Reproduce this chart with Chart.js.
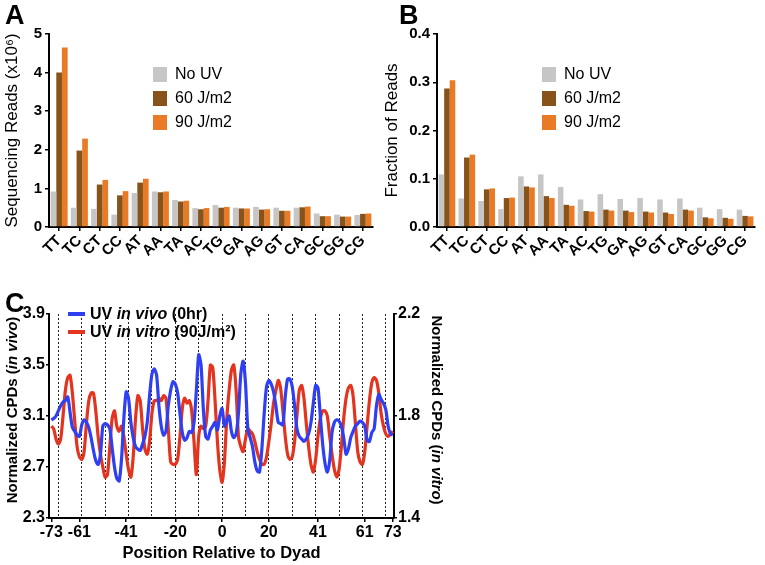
<!DOCTYPE html>
<html>
<head>
<meta charset="utf-8">
<script src="https://cdn.jsdelivr.net/npm/chart.js"></script>
<style>
body { margin: 0; background: #fff; width: 765px; height: 565px; position: relative; overflow: hidden; font-family: "Liberation Sans", Arial, sans-serif; }
canvas { position: absolute; }
.panel { position: absolute; font-weight: bold; font-size: 27px; color: #000; line-height: 1; }
</style>
</head>
<body>
<canvas id="chartA" width="380" height="290" style="left:0;top:0"></canvas>
<canvas id="chartB" width="385" height="290" style="left:380px;top:0"></canvas>
<canvas id="chartC" width="450" height="275" style="left:0;top:290px"></canvas>
<div class="panel" style="left:5px;top:2px">A</div>
<div class="panel" style="left:399px;top:2px">B</div>
<div class="panel" style="left:5px;top:290px">C</div>
<script>
// panels A and B
var dinucleotides = ['TT', 'TC', 'CT', 'CC', 'AT', 'AA', 'TA', 'AC', 'TG', 'GA', 'AG', 'GT', 'CA', 'GC', 'GG', 'CG'];
var doseLabels = ['No UV', '60 J/m2', '90 J/m2'];
var readsNoUV = [0.92, 0.50, 0.47, 0.32, 0.88, 0.92, 0.70, 0.49, 0.57, 0.50, 0.52, 0.50, 0.50, 0.35, 0.32, 0.31];
var reads60 = [4.00, 1.98, 1.10, 0.82, 1.15, 0.90, 0.66, 0.46, 0.50, 0.48, 0.45, 0.42, 0.51, 0.28, 0.27, 0.34];
var reads90 = [4.65, 2.29, 1.22, 0.93, 1.25, 0.92, 0.68, 0.49, 0.52, 0.48, 0.46, 0.42, 0.53, 0.28, 0.27, 0.35];
var fracNoUV = [0.109, 0.059, 0.054, 0.037, 0.105, 0.109, 0.083, 0.057, 0.068, 0.058, 0.060, 0.057, 0.059, 0.040, 0.037, 0.036];
var frac60 = [0.287, 0.144, 0.078, 0.060, 0.084, 0.064, 0.046, 0.033, 0.036, 0.034, 0.032, 0.030, 0.036, 0.020, 0.019, 0.023];
var frac90 = [0.304, 0.150, 0.080, 0.061, 0.082, 0.060, 0.044, 0.032, 0.034, 0.031, 0.030, 0.027, 0.034, 0.018, 0.017, 0.022];
var readsTicks = [0, 1, 2, 3, 4, 5];
var fracTicks = [0, 0.1, 0.2, 0.3, 0.4];

// panel C
var dyadTicks = [-73, -61, -41, -20, 0, 20, 41, 61, 73];
var dyadLines = [-70, -60, -50, -40, -30, -20, -10, 0, 10, 20, 30, 40, 50, 60, 70];
var vivoTicks = [2.3, 2.7, 3.1, 3.5, 3.9];
var vitroTicks = [1.4, 1.8, 2.2];
var inVivo = [
  3.07, 3.08, 3.10, 3.14, 3.18, 3.21, 3.22, 3.25, 3.13, 3.01,
  2.98, 2.95, 2.94, 3.03, 3.07, 3.05, 3.01, 2.93, 2.83, 2.75,
  2.72, 2.80, 3.02, 3.04, 3.03, 3.00, 2.85, 2.70, 2.61, 2.59,
  2.76, 3.08, 3.29, 3.24, 3.05, 2.93, 2.86, 2.84, 2.83, 2.88,
  2.94, 3.05, 3.26, 3.43, 3.47, 3.42, 3.18, 3.02, 2.95, 2.98,
  3.18, 3.30, 3.37, 3.35, 3.28, 3.12, 2.97, 2.91, 2.93, 2.98,
  2.97, 3.05, 3.30, 3.58, 3.50, 3.15, 2.94, 2.92, 2.99, 3.02,
  3.05, 2.99, 3.10, 3.16, 3.02, 3.06, 3.10, 2.98, 2.93, 2.96,
  3.12, 3.43, 3.53, 3.36, 3.00, 2.93, 2.86, 2.74, 2.67, 2.66,
  2.84, 3.12, 3.33, 3.38, 3.35, 3.29, 3.18, 3.05, 3.04, 3.03,
  3.25, 3.39, 3.39, 3.33, 3.18, 3.00, 2.94, 2.92, 2.90, 2.92,
  2.96, 3.05, 3.20, 3.34, 3.32, 3.10, 2.88, 2.73, 2.66, 2.75,
  2.97, 3.05, 3.07, 3.06, 3.02, 2.93, 2.80, 2.84, 2.93, 2.98,
  3.02, 3.04, 3.06, 3.05, 3.02, 2.91, 2.90, 2.97, 3.00, 3.18,
  3.27, 3.23, 3.20, 3.15, 3.02, 2.96, 2.95
];
var inVitro = [
  1.76, 1.75, 1.71, 1.69, 1.71, 1.80, 1.90, 1.95, 1.96, 1.89,
  1.78, 1.68, 1.64, 1.63, 1.66, 1.77, 1.86, 1.89, 1.89, 1.82,
  1.72, 1.65, 1.60, 1.56, 1.57, 1.68, 1.79, 1.82, 1.76, 1.74,
  1.76, 1.72, 1.65, 1.59, 1.56, 1.64, 1.79, 1.88, 1.86, 1.75,
  1.67, 1.65, 1.70, 1.81, 1.86, 1.86, 1.87, 1.86, 1.88, 1.87,
  1.75, 1.62, 1.61, 1.61, 1.63, 1.72, 1.83, 1.87, 1.85, 1.86,
  1.82, 1.70, 1.57, 1.72, 1.76, 1.75, 1.76, 1.86, 2.00, 1.99,
  1.86, 1.70, 1.59, 1.54, 1.62, 1.79, 1.90, 1.98, 2.00, 1.90,
  1.72, 1.68, 1.66, 1.71, 1.75, 1.74, 1.73, 1.70, 1.66, 1.63,
  1.61, 1.61, 1.64, 1.70, 1.77, 1.85, 1.90, 1.94, 1.91, 1.82,
  1.72, 1.65, 1.63, 1.64, 1.70, 1.80, 1.90, 1.92, 1.87, 1.77,
  1.68, 1.61, 1.58, 1.63, 1.72, 1.79, 1.82, 1.82, 1.80, 1.72,
  1.65, 1.59, 1.56, 1.59, 1.68, 1.79, 1.87, 1.91, 1.92, 1.88,
  1.77, 1.66, 1.62, 1.61, 1.66, 1.76, 1.86, 1.93, 1.95, 1.94,
  1.89, 1.81, 1.76, 1.73, 1.72, 1.73, 1.74
];

var FONT = '"Liberation Sans", Arial, sans-serif';
var doseColors = ['#c6c6c6', '#87531a', '#e97a26'];

// legend with square boxes, placed inside the plot
var boxLegend = {
  id: 'boxLegend',
  afterDraw: function (chart, args, opts) {
    var c = chart.ctx, a = chart.chartArea;
    c.save();
    c.font = '16px ' + FONT;
    c.textBaseline = 'middle';
    chart.data.datasets.forEach(function (ds, i) {
      var x = a.left + opts.x, y = a.top + opts.y + i * 24;
      c.fillStyle = ds.backgroundColor;
      c.fillRect(x, y, 14, 15);
      c.fillStyle = '#000';
      c.fillText(ds.label, x + 22, y + 8);
    });
    c.restore();
  }
};

function barChart(id, series, ticks, yMax, yTitle, fmt, leftW, rightPad, legendX) {
  return new Chart(document.getElementById(id).getContext('2d'), {
    type: 'bar',
    data: {
      labels: dinucleotides,
      datasets: series.map(function (v, i) {
        return { label: doseLabels[i], data: v, backgroundColor: doseColors[i], borderWidth: 0,
                 categoryPercentage: 0.84, barPercentage: 1 };
      })
    },
    options: {
      responsive: false,
      animation: false,
      layout: { padding: { top: 34, right: rightPad, left: 0, bottom: 0 } },
      plugins: { legend: { display: false }, tooltip: { enabled: false }, boxLegend: { x: legendX, y: 33 } },
      scales: {
        x: {
          grid: { display: true, drawOnChartArea: false, offset: false, tickLength: 4, color: '#000', lineWidth: 1.5 },
          border: { display: true, color: '#000', width: 2 },
          ticks: { minRotation: 45, maxRotation: 45, autoSkip: false, color: '#000', padding: 1,
                   font: { family: FONT, size: 15, weight: 'bold' } },
          afterFit: function (s) { s.height = 63; }
        },
        y: {
          min: 0, max: yMax,
          afterBuildTicks: function (s) { s.ticks = ticks.map(function (v) { return { value: v }; }); },
          grid: { display: true, drawOnChartArea: false, tickLength: 4, color: '#000', lineWidth: 1.5 },
          border: { display: true, color: '#000', width: 2 },
          ticks: { color: '#000', padding: 3, font: { family: FONT, size: 15, weight: 'bold' },
                   callback: function (v) { return fmt(v); } },
          title: { display: true, text: yTitle, color: '#000', padding: { top: 2, bottom: 2 },
                   font: { family: FONT, size: 17 } },
          afterFit: function (s) { s.width = leftW; }
        }
      }
    },
    plugins: [boxLegend]
  });
}

barChart('chartA', [readsNoUV, reads60, reads90], readsTicks, 5, 'Sequencing Reads (x10\u2076)',
  function (v) { return String(v); }, 49, 7, 104);
barChart('chartB', [fracNoUV, frac60, frac90], fracTicks, 0.4, 'Fraction of Reads',
  function (v) { return v.toFixed(1); }, 57, 10, 105);

// panel C
var positions = [];
for (var p = -73; p <= 73; p++) positions.push(p);

function drawParts(c, parts, x, y, size, center) {
  var widths = parts.map(function (pt) {
    c.font = (pt[1] ? 'italic ' : '') + 'bold ' + size + 'px ' + FONT;
    return c.measureText(pt[0]).width;
  });
  var total = widths.reduce(function (s, w) { return s + w; }, 0);
  var cx = center ? x - total / 2 : x;
  parts.forEach(function (pt, i) {
    c.font = (pt[1] ? 'italic ' : '') + 'bold ' + size + 'px ' + FONT;
    c.fillText(pt[0], cx, y);
    cx += widths[i];
  });
}

var cpdText = {
  id: 'cpdText',
  afterDraw: function (chart) {
    var c = chart.ctx;
    c.save();
    c.fillStyle = '#000';
    c.textBaseline = 'middle';
    c.textAlign = 'left';
    // legend
    var ds = chart.data.datasets;
    var rows = [
      [['UV ', false], ['in vivo', true], [' (0hr)', false]],
      [['UV ', false], ['in vitro', true], [' (90J/m\u00b2)', false]]
    ];
    rows.forEach(function (parts, i) {
      var y = 24 + i * 18;
      c.strokeStyle = ds[i].borderColor;
      c.lineWidth = 4;
      c.beginPath(); c.moveTo(68, y); c.lineTo(85, y); c.stroke();
      c.fillStyle = '#000';
      drawParts(c, parts, 90, y + 1, 16, false);
    });
    // axis titles
    c.save();
    c.translate(13, 120); c.rotate(-Math.PI / 2);
    drawParts(c, [['Normalized CPDs (', false], ['in vivo', true], [')', false]], 0, 0, 15, true);
    c.restore();
    c.save();
    c.translate(436, 120); c.rotate(Math.PI / 2);
    drawParts(c, [['Normalized CPDs (', false], ['in vitro', true], [')', false]], 0, 0, 15, true);
    c.restore();
    c.restore();
  }
};

new Chart(document.getElementById('chartC').getContext('2d'), {
  type: 'line',
  data: {
    datasets: [
      { label: 'UV in vivo (0hr)', yAxisID: 'y', borderColor: '#2f3ff2', borderWidth: 3.2, pointRadius: 0, tension: 0.25,
        data: positions.map(function (x, i) { return { x: x, y: inVivo[i] }; }) },
      { label: 'UV in vitro (90J/m2)', yAxisID: 'y2', borderColor: '#e2341f', borderWidth: 3.2, pointRadius: 0, tension: 0.25,
        data: positions.map(function (x, i) { return { x: x, y: inVitro[i] }; }) }
    ]
  },
  options: {
    responsive: false,
    animation: false,
    layout: { padding: { top: 24, right: 0, left: 0, bottom: 0 } },
    plugins: { legend: { display: false }, tooltip: { enabled: false } },
    scales: {
      x: {
        type: 'linear', min: -74, max: 73.5,
        afterBuildTicks: function (s) { s.ticks = dyadTicks.map(function (v) { return { value: v }; }); },
        grid: { display: true, drawOnChartArea: false, tickLength: 4, color: '#000', lineWidth: 1.5 },
        border: { display: true, color: '#000', width: 2 },
        ticks: { color: '#000', padding: 1, maxRotation: 0, autoSkip: false,
                 font: { family: FONT, size: 16, weight: 'bold' } },
        title: { display: true, text: 'Position Relative to Dyad', color: '#000', padding: { top: 2, bottom: 2 },
                 font: { family: FONT, size: 16.5, weight: 'bold' } },
        afterFit: function (s) { s.height = 47; }
      },
      xg: {
        type: 'linear', position: 'bottom', min: -74, max: 73.5,
        afterBuildTicks: function (s) { s.ticks = dyadLines.map(function (v) { return { value: v }; }); },
        grid: { display: true, drawTicks: false, color: '#222', lineWidth: 1 },
        border: { display: false, dash: [2, 2] },
        ticks: { display: false },
        afterFit: function (s) { s.height = 0; }
      },
      y: {
        position: 'left', min: 2.3, max: 3.9,
        afterBuildTicks: function (s) { s.ticks = vivoTicks.map(function (v) { return { value: v }; }); },
        grid: { display: true, drawOnChartArea: false, tickLength: 3, color: '#000', lineWidth: 1.5 },
        border: { display: true, color: '#000', width: 2 },
        ticks: { color: '#000', padding: 1, font: { family: FONT, size: 16, weight: 'bold' },
                 callback: function (v) { return v.toFixed(1); } },
        afterFit: function (s) { s.width = 49; }
      },
      y2: {
        position: 'right', min: 1.4, max: 2.2,
        afterBuildTicks: function (s) { s.ticks = vitroTicks.map(function (v) { return { value: v }; }); },
        grid: { display: true, drawOnChartArea: false, tickLength: 3, color: '#000', lineWidth: 1.5 },
        border: { display: true, color: '#000', width: 2 },
        ticks: { color: '#000', padding: 1, font: { family: FONT, size: 16, weight: 'bold' },
                 callback: function (v) { return v.toFixed(1); } },
        afterFit: function (s) { s.width = 56; }
      }
    }
  },
  plugins: [cpdText]
});
</script>
</body>
</html>
